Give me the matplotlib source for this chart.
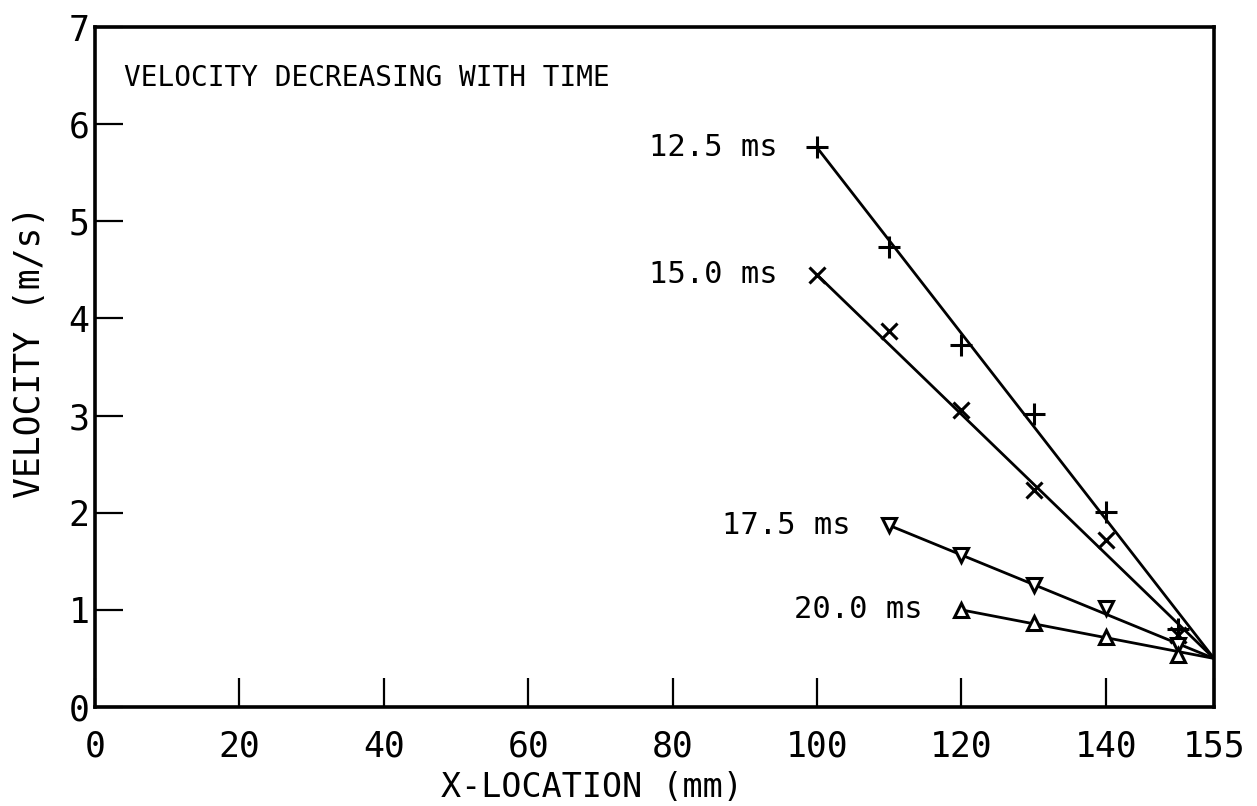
import numpy as np
import matplotlib.pyplot as plt

plt.rcParams['font.family'] = ['DejaVu Sans Mono', 'DejaVu Sans']

# velocity profiles at successive times (x in mm, v in m/s)
x_125 = [100, 110, 120, 130, 140, 150]
v_125 = [5.76, 4.74, 3.73, 3.02, 2.01, 0.80]
x_150 = [100, 110, 120, 130, 140, 150]
v_150 = [4.45, 3.87, 3.06, 2.23, 1.72, 0.74]
x_175 = [110, 120, 130, 140, 150]
v_175 = [1.87, 1.57, 1.26, 1.02, 0.64]
x_200 = [120, 130, 140, 150]
v_200 = [1.00, 0.87, 0.72, 0.54]

# all fitted lines meet at the wall
x_wall = 155
v_wall = 0.5

series = [
    ("12.5 ms", x_125, v_125, "+"),
    ("15.0 ms", x_150, v_150, "x"),
    ("17.5 ms", x_175, v_175, "v"),
    ("20.0 ms", x_200, v_200, "^"),
]

x_ticks = [0, 20, 40, 60, 80, 100, 120, 140, 155]
y_ticks = [0, 1, 2, 3, 4, 5, 6, 7]

fig = plt.figure(figsize=(12.57, 8.06), dpi=100)
ax = fig.add_axes([0.0756, 0.1228, 0.8902, 0.8437])

for label, xs, vs, mk in series:
    ax.plot([xs[0], x_wall], [vs[0], v_wall], color='black', lw=2.0,
            solid_capstyle='round', zorder=2)
    if mk in ('v', '^'):
        ax.plot(xs, vs, linestyle='none', marker=mk, markersize=10,
                markerfacecolor='white', markeredgecolor='black',
                markeredgewidth=2.2, zorder=3)
    else:
        ax.plot(xs, vs, linestyle='none', marker=mk, markersize=16 if mk == '+' else 11,
                markeredgecolor='black', markeredgewidth=2.2, zorder=3)
    ax.annotate(label, xy=(xs[0], vs[0]), xytext=(-28, 0),
                textcoords='offset points', ha='right', va='center',
                fontsize=22)

ax.text(0.026, 0.925, "VELOCITY DECREASING WITH TIME", transform=ax.transAxes,
        fontsize=20, ha='left', va='center')

ax.set_xlim(0, 155)
ax.set_ylim(0, 7)
ax.set_xticks(x_ticks)
ax.set_xticklabels([str(t) for t in x_ticks])
ax.set_yticks(y_ticks)
ax.set_yticklabels([str(t) for t in y_ticks])
ax.tick_params(axis='x', direction='in', length=21, width=1.6, pad=16,
               labelsize=25)
ax.tick_params(axis='y', direction='in', length=20, width=1.6, pad=4,
               labelsize=25)

for s in ax.spines.values():
    s.set_linewidth(2.6)

ax.set_xlabel("X-LOCATION (mm)", fontsize=24)
ax.set_ylabel("VELOCITY (m/s)", fontsize=25)
ax.xaxis.set_label_coords(0.444, -0.094)
ax.yaxis.set_label_coords(-0.043, 0.522)

fig.savefig("out.png", dpi=100)
